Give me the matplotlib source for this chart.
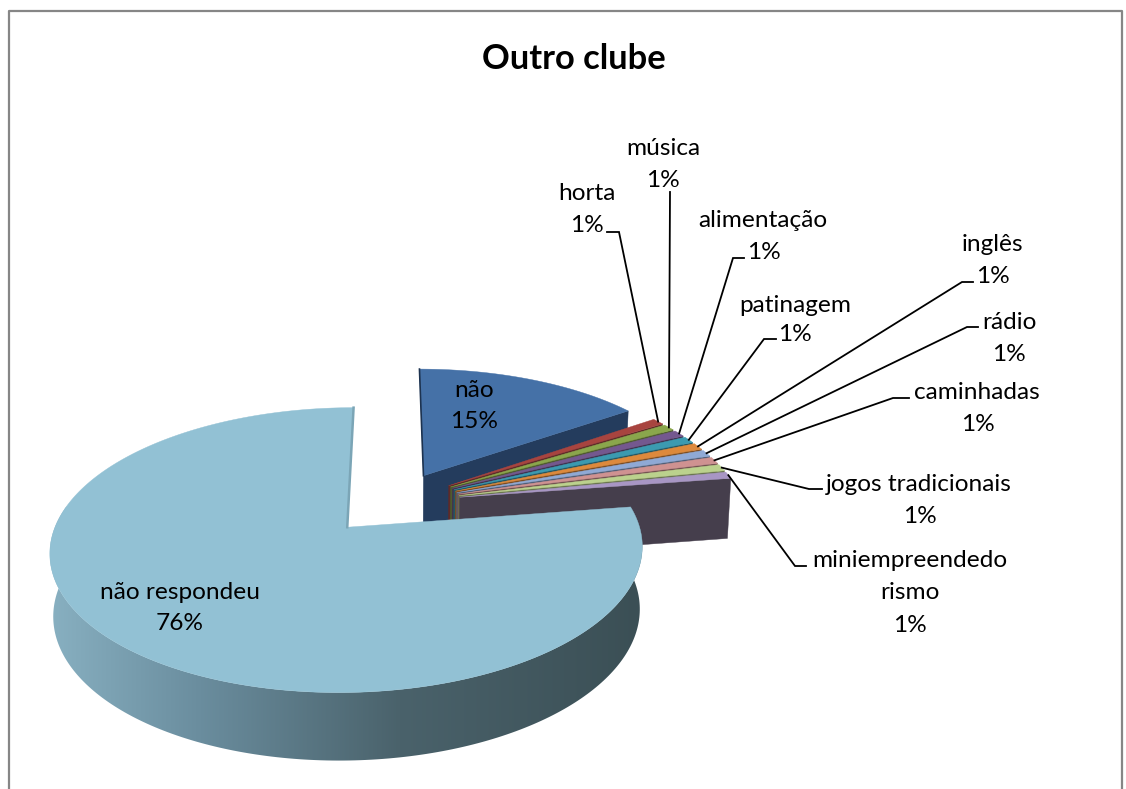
#!/usr/bin/env python3
import numpy as np
import matplotlib
matplotlib.use('Agg')
import matplotlib.pyplot as plt
from matplotlib.colors import to_rgb
from matplotlib.patches import Polygon

plt.rcParams['font.family'] = ['Lato', 'DejaVu Sans']

TITLE = "Outro clube"
CATEGORIES = ["não", "horta", "música", "alimentação", "patinagem", "inglês", "rádio",
              "caminhadas", "jogos tradicionais", "miniempreendedo\nrismo", "não respondeu"]
VALUES = [15, 0.8, 0.8, 0.8, 0.8, 0.8, 0.8, 0.8, 0.8, 0.8, 76]
PCT_LABELS = ["15%", "1%", "1%", "1%", "1%", "1%", "1%", "1%", "1%", "1%", "76%"]
TOP_COLORS = ["#4571a7", "#a8443f", "#8aa64c", "#74588f", "#3b9ab0", "#dd893c",
              "#8fa9d5", "#cf9291", "#bbd18d", "#a896c4", "#92c1d4"]
WALL_COLORS = ["#243c5d", "#5e2a28", "#4e5c2e", "#41324f", "#235763", "#7d4d22",
               "#505f78", "#745251", "#6a7650", "#453e4c", "#3e5058"]
RIM_STOPS_X = [50, 200, 400, 640]
RIM_STOPS = ["#88b0c1", "#6a8d9e", "#4a626b", "#3b4f55"]

# projection of the pie disc, pixel space
CX, CY = 393, 502.7
SCALE_X, SCALE_Y = 284, 131
PERSP = 0.156
EXPLODE = 0.24
DROP, Q_X, Q_Y = 61, 0.99, 1.037

# label baselines in pixels, and the elbow of each leader
TEXT_POS = [(474, 397), (587, 200), (663, 155), (763, 227), (795, 312), (992, 251), (1009, 329),
            (977, 399), (919, 491), (910, 567), (180, 599)]
PCT_POS = [(474, 428), (587, 232), (663, 187), (764, 259), (795, 341), (993, 283), (1009, 361),
           (978, 431), (920, 523), (910, 632), (180, 630)]
SECOND_LINE_Y = 599
LEADERS = [None, [(607, 232), (619, 232)], [(670, 192)], [(744, 258), (733, 258)],
           [(776, 339), (764, 339)], [(973, 282), (962, 282)], [(978, 327), (967, 327)],
           [(909, 398), (893, 398)], [(822, 489), (809, 489)], [(806, 566), (795, 566)], None]


def project(u, v):
    d = 1 + PERSP * v
    return CX + SCALE_X * u / d, CY - SCALE_Y * v / d


def drop(x, y):
    return CX + Q_X * (x - CX), CY + DROP + Q_Y * (y - CY)


def slice_geometry(theta1, theta2):
    mid = np.radians((theta1 + theta2) / 2)
    u0, v0 = EXPLODE * np.cos(mid), EXPLODE * np.sin(mid)
    t = np.radians(np.linspace(theta1, theta2, 300))
    x, y = project(u0 + np.cos(t), v0 + np.sin(t))
    ax0, ay0 = project(u0, v0)
    return (ax0, ay0), x, y


def wall(ax, p, q, color, zorder):
    bp, bq = drop(*p), drop(*q)
    ax.fill([p[0], q[0], bq[0], bp[0]], [p[1], q[1], bq[1], bp[1]], color=color, lw=0.3, zorder=zorder)


def draw_rim(ax, x, y, zorder):
    # the side of the big slice, a horizontal gradient clipped to its outline
    bx, by = drop(x, y)
    outline = np.c_[np.r_[x, bx[::-1]], np.r_[y, by[::-1]]]
    xs = np.linspace(outline[:, 0].min(), outline[:, 0].max(), 600)
    stops = np.array([to_rgb(c) for c in RIM_STOPS])
    grad = np.stack([np.interp(xs, RIM_STOPS_X, stops[:, i]) for i in range(3)], axis=-1)[np.newaxis, :, :]
    im = ax.imshow(grad, extent=[xs[0], xs[-1], outline[:, 1].max(), outline[:, 1].min()],
                   aspect='auto', zorder=zorder, interpolation='bilinear')
    patch = Polygon(outline, closed=True, transform=ax.transData, facecolor='none', edgecolor='none')
    ax.add_patch(patch)
    im.set_clip_path(patch)


fig = plt.figure(figsize=(11.26, 7.89), dpi=100)
ax = fig.add_axes([0, 0, 1, 1])
ax.axis('off')

# chart frame
ax.plot([9, 9, 1122, 1122], [789, 11, 11, 789], color="#868686", lw=1.6, zorder=1)

sweeps = np.array(VALUES, dtype=float) / sum(VALUES) * 360
theta = 90.0
z = 2
last = len(sweeps) - 1
for i, sweep in enumerate(sweeps):
    theta1, theta2 = theta, theta - sweep
    theta = theta2
    apex, x, y = slice_geometry(theta1, theta2)
    if i == last:
        # only the front of the rim shows
        n = int(len(x) * (theta1 + 190) / sweep)
        draw_rim(ax, x[:n], y[:n], z)
    else:
        wall(ax, apex, (x[-1], y[-1]), WALL_COLORS[i], z)
    ax.fill(np.r_[apex[0], x], np.r_[apex[1], y], color=TOP_COLORS[i], lw=0.3, zorder=z + 0.5)
    # sliver of the cut face along the back edge
    if i == 0:
        ax.plot([apex[0], x[0]], [apex[1], y[0]], color="#1d3350", lw=1.2, zorder=z + 0.6)
    if i == last:
        ax.plot([apex[0], x[-1]], [apex[1], y[-1]], color="#7ba5b6", lw=1.8, zorder=z + 0.6)
    z += 1

    if LEADERS[i]:
        mid = (theta1 + theta2) / 2
        _, mx, my = slice_geometry(mid + 0.01, mid - 0.01)
        pts = LEADERS[i] + [(mx[0], my[0])]
        ax.plot([p[0] for p in pts], [p[1] for p in pts], color="black", lw=1.3, zorder=50,
                solid_joinstyle='miter')

    lines = CATEGORIES[i].split("\n")
    ax.text(*TEXT_POS[i], lines[0], fontsize=17.6, ha='center', va='baseline', color="black", zorder=60)
    if len(lines) > 1:
        ax.text(TEXT_POS[i][0], SECOND_LINE_Y, lines[1], fontsize=17.6, ha='center', va='baseline',
                color="black", zorder=60)
    ax.text(*PCT_POS[i], PCT_LABELS[i], fontsize=17.6, ha='center', va='baseline', color="black", zorder=60)

ax.text(574, 69, TITLE, fontsize=24.8, fontweight='bold', ha='center', va='baseline', color="black")

ax.set_xlim(0, 1126)
ax.set_ylim(789, 0)
fig.savefig("out.png", dpi=100)
